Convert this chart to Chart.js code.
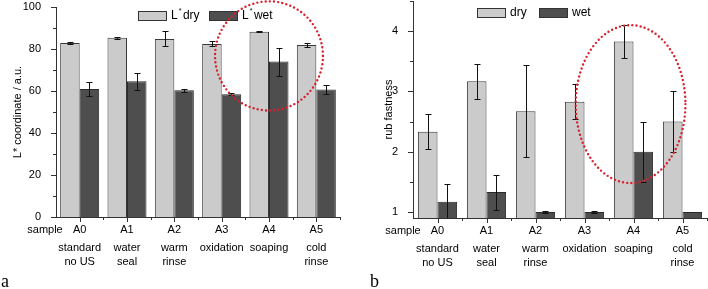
<!DOCTYPE html>
<html><head><meta charset="utf-8">
<script src="https://cdn.jsdelivr.net/npm/chart.js@4.4.1/dist/chart.umd.min.js"></script>
<style>
html,body{margin:0;padding:0;background:#fff;}
#wrap{position:relative;width:708px;height:289px;overflow:hidden;background:#fff;}
canvas{position:absolute;top:0;}
</style></head><body>
<div id="wrap">
<canvas id="c1" width="354" height="289" style="left:0"></canvas>
<canvas id="c2" width="354" height="289" style="left:354px"></canvas>
</div>
<script>
// ---- data ----
const categories = ['A0','A1','A2','A3','A4','A5'];
const descriptions = [['standard','no US'],['water','seal'],['warm','rinse'],['oxidation'],['soaping'],['cold','rinse']];
const leftLabels = ['L* dry','L* wet'];
const lDry    = [82.9, 85.3, 84.8, 82.4, 88.2, 81.9];
const lDryErr = [0.5, 0.3, 3.6, 1.2, 0.3, 1.0];
const lWet    = [61.0, 64.6, 60.3, 58.5, 74.0, 60.7];
const lWetErr = [3.5, 4.0, 0.6, 0.4, 6.7, 2.1];
const leftYTicks = [0, 20, 40, 60, 80, 100];
const rightLabels = ['dry','wet'];
const rubDry    = [2.33, 3.17, 2.67, 2.83, 3.83, 2.5];
const rubDryErr = [0.29, 0.29, 0.76, 0.29, 0.28, 0.5];
const rubWet    = [1.17, 1.33, 1.0, 1.0, 2.0, 1.0];
const rubWetErr = [0.29, 0.29, 0.01, 0.01, 0.5, 0];
const rightYTicks = [1, 2, 3, 4];

Chart.defaults.font.family = "'Liberation Sans', Arial, sans-serif";
Chart.defaults.color = '#000';
const FONT = "11px 'Liberation Sans', Arial, sans-serif";

const decorPlugin = {
  id: 'decor',
  afterDatasetsDraw(chart, args, o) {
    const ctx = chart.ctx, y = chart.scales.y, ca = chart.chartArea;
    ctx.save();
    ctx.beginPath();
    ctx.rect(ca.left, ca.top - 2, ca.right - ca.left, ca.bottom - ca.top + 2);
    ctx.clip();
    ctx.strokeStyle = '#111';
    ctx.lineWidth = 1;
    chart.data.datasets.forEach((ds, di) => {
      const meta = chart.getDatasetMeta(di);
      meta.data.forEach((bar, j) => {
        const e = ds.errors[j];
        if (!e) return;
        const v = ds.data[j];
        const xc = Math.round(bar.x) + 0.5;
        const yt = Math.round(y.getPixelForValue(v + e)) + 0.5;
        const yb = Math.round(y.getPixelForValue(v - e)) + 0.5;
        ctx.beginPath();
        ctx.moveTo(xc, yt); ctx.lineTo(xc, yb);
        ctx.moveTo(xc - 3, yt); ctx.lineTo(xc + 3, yt);
        ctx.moveTo(xc - 3, yb); ctx.lineTo(xc + 3, yb);
        ctx.stroke();
      });
    });
    ctx.restore();
  },
  afterDraw(chart, args, o) {
    const ctx = chart.ctx, x = chart.scales.x, y = chart.scales.y, ca = chart.chartArea;
    ctx.save();
    // axis ticks
    ctx.strokeStyle = '#333';
    ctx.lineWidth = 1;
    ctx.beginPath();
    for (let v = o.yMin; v <= o.yMax + 1e-9; v += o.yMinor) {
      const major = Math.abs(v / o.yMajor - Math.round(v / o.yMajor)) < 1e-6;
      const py = Math.round(y.getPixelForValue(v)) + 0.5;
      ctx.moveTo(ca.left, py); ctx.lineTo(ca.left - (major ? 5 : 3), py);
    }
    for (let i = 0; i < categories.length; i++) {
      const pc = Math.round(x.getPixelForValue(i)) + 0.5;
      ctx.moveTo(pc, ca.bottom); ctx.lineTo(pc, ca.bottom + 5);
      const pb = Math.round(x.getPixelForValue(i + 0.5)) + 0.5;
      ctx.moveTo(pb, ca.bottom); ctx.lineTo(pb, ca.bottom + 3);
    }
    ctx.stroke();
    // category codes and descriptions
    ctx.fillStyle = '#000';
    ctx.font = FONT;
    ctx.textAlign = 'center';
    ctx.textBaseline = 'middle';
    categories.forEach((c, i) => {
      const px = x.getPixelForValue(i);
      ctx.fillText(c, px, ca.bottom + 13);
      descriptions[i].forEach((t, k) => ctx.fillText(t, px, ca.bottom + 31 + k * 13.5));
    });
    ctx.fillText('sample', o.sampleX, ca.bottom + 13);
    // y title
    ctx.save();
    ctx.translate(o.titleX, (ca.top + ca.bottom) / 2);
    ctx.rotate(-Math.PI / 2);
    ctx.fillText(o.yTitle, 0, 0);
    ctx.restore();
    // legend
    ctx.textAlign = 'left';
    chart.data.datasets.forEach((ds, di) => {
      const bx = o.legendX[di], by = o.legendY;
      ctx.fillStyle = ds.backgroundColor;
      ctx.fillRect(bx, by, 29, 10);
      ctx.strokeStyle = '#333';
      ctx.strokeRect(bx + 0.5, by + 0.5, 28, 9);
      ctx.fillStyle = '#000';
      let tx = bx + 33;
      const ty = by + 5;
      const lab = ds.label;
      const star = lab.indexOf('*');
      ctx.font = "12px 'Liberation Sans', Arial, sans-serif";
      if (star >= 0) {
        const a = lab.slice(0, star), b = lab.slice(star + 1).trim();
        ctx.fillText(a, tx, ty); tx += ctx.measureText(a).width + 1;
        ctx.font = "7px 'Liberation Sans', Arial, sans-serif";
        ctx.fillText('*', tx, ty - 5); tx += ctx.measureText('*').width + 1.5;
        ctx.font = "12px 'Liberation Sans', Arial, sans-serif";
        ctx.fillText(b, tx, ty);
      } else {
        ctx.fillText(lab, tx, ty);
      }
    });
    // dotted ellipse
    const e = o.ellipse;
    const cx = x.getPixelForValue(e.cx), cy = y.getPixelForValue(e.cy);
    const rx = x.getPixelForValue(e.cx + e.rx) - cx;
    const ry = cy - y.getPixelForValue(e.cy + e.ry);
    ctx.strokeStyle = '#d8202c';
    ctx.lineWidth = 2.4;
    ctx.lineCap = 'round';
    ctx.setLineDash([0, 4.2]);
    ctx.beginPath();
    ctx.ellipse(cx, cy, rx, ry, 0, 0, Math.PI * 2);
    ctx.stroke();
    ctx.setLineDash([]);
    // panel letter
    ctx.font = "18px 'Liberation Serif', 'DejaVu Serif', serif";
    ctx.textBaseline = 'alphabetic';
    ctx.fillStyle = '#000';
    ctx.fillText(o.letter, o.letterX, 287);
    ctx.restore();
  }
};

function makeChart(id, cfg) {
  return new Chart(document.getElementById(id), {
    type: 'bar',
    data: {
      labels: categories,
      datasets: [
        { label: cfg.labels[0], data: cfg.dry, errors: cfg.dryErr, backgroundColor: '#cbcbcb', borderColor: '#3a3a3a', borderWidth: 1 },
        { label: cfg.labels[1], data: cfg.wet, errors: cfg.wetErr, backgroundColor: '#4e4e4e', borderColor: '#2a2a2a', borderWidth: 1 }
      ]
    },
    options: {
      responsive: false, animation: false,
      layout: { padding: { top: cfg.padTop, right: cfg.padRight, left: 0, bottom: 0 } },
      datasets: { bar: { categoryPercentage: cfg.catPct, barPercentage: 1 } },
      plugins: {
        legend: { display: false }, tooltip: { enabled: false },
        decor: cfg.decor
      },
      scales: {
        x: {
          grid: { display: false },
          border: { color: '#333', width: 1 },
          ticks: { display: false },
          afterFit(s) { s.height = cfg.xH; s.paddingLeft = 0; s.paddingRight = 0; s.paddingTop = 0; s.paddingBottom = 0; }
        },
        y: {
          min: cfg.min, max: cfg.max,
          grid: { display: false },
          border: { color: '#333', width: 1 },
          ticks: { padding: 7, font: { size: 11 }, color: '#000', autoSkip: false },
          afterBuildTicks(s) { s.ticks = cfg.yTicks.map(v => ({ value: v })); },
          afterFit(s) { s.width = cfg.yW; s.paddingTop = 0; s.paddingBottom = 0; s.paddingLeft = 0; s.paddingRight = 0; }
        }
      }
    },
    plugins: [decorPlugin]
  });
}

makeChart('c1', {
  labels: leftLabels, dry: lDry, dryErr: lDryErr, wet: lWet, wetErr: lWetErr,
  min: 0, max: 100, yTicks: leftYTicks, yW: 56, xH: 72, padTop: 7, padRight: 14, catPct: 0.824,
  decor: { yMin: 0, yMax: 100, yMinor: 10, yMajor: 20, sampleX: 45, titleX: 18, yTitle: 'L* coordinate / a.u.',
    legendX: [138, 209], legendY: 11, ellipse: { cx: 4, cy: 76.7, rx: 1.14, ry: 26 }, letter: 'a', letterX: 1 }
});
makeChart('c2', {
  labels: rightLabels, dry: rubDry, dryErr: rubDryErr, wet: rubWet, wetErr: rubWetErr,
  min: 0.9, max: 4.5, yTicks: rightYTicks, yW: 59, xH: 71, padTop: 1, padRight: 1, catPct: 0.8,
  decor: { yMin: 1, yMax: 4.5, yMinor: 0.5, yMajor: 1, sampleX: 49, titleX: 35, yTitle: 'rub fastness',
    legendX: [123, 185], legendY: 8, ellipse: { cx: 3.94, cy: 2.79, rx: 1.12, ry: 1.31 }, letter: 'b', letterX: 16 }
});
</script>
</body></html>
